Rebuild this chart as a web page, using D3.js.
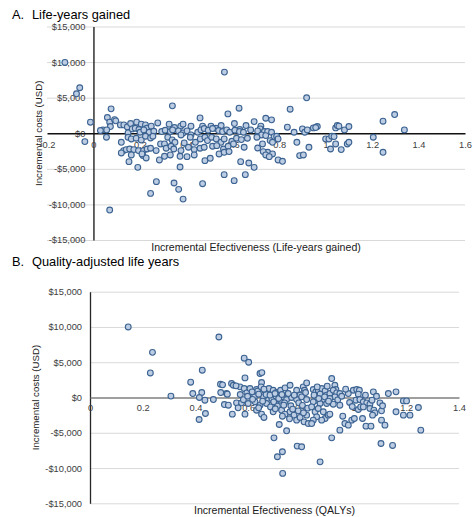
<!DOCTYPE html>
<html>
<head>
<meta charset="utf-8">
<script src="https://cdn.jsdelivr.net/npm/d3@7"></script>
<style>
  body { margin: 0; background: #fff; }
  svg { display: block; font-family: "Liberation Sans", Arial, sans-serif; }
</style>
</head>
<body>
<svg id="chart" width="473" height="517"></svg>
<script>
const costTicks = [-15000, -10000, -5000, 0, 5000, 10000, 15000];
const lifeYearTicks = [-0.2, 0, 0.2, 0.4, 0.6, 0.8, 1, 1.2, 1.4, 1.6];
const qalyTicks = [0, 0.2, 0.4, 0.6, 0.8, 1, 1.2, 1.4];

// [incremental effectiveness, incremental cost]
const lifeYearsPoints = [
  [-0.123, 9950], [-0.073, 5540], [-0.059, 6390], [-0.037, -1170], [-0.013, 1550], [0.564, 8590], [0.07, -10790],
  [0.076, 3430], [0.34, 3850], [0.459, 2160], [0.579, 2720], [0.627, 3520],
  [0.06, 2210], [0.07, 1550], [0.091, 1920], [0.096, 1740], [0.073, 940], [0.116, 1170], [0.131, 1170], [0.146, 890],
  [0.16, 1360], [0.186, 1550], [0.206, 1270], [0.224, 1170], [0.23, 700], [0.249, 990], [0.277, 1450], [0.326, 1270],
  [0.349, 800], [0.376, 990], [0.386, 1270], [0.42, 990], [0.47, 990], [0.506, 990], [0.527, 700], [0.55, 1080],
  [0.607, 1360], [0.63, 520], [0.657, 1080],
  [0.041, 470], [0.03, 380], [0.057, 470], [0.149, 50], [0.167, 610], [0.18, 700], [0.196, 520], [0.201, 140],
  [0.217, 470], [0.24, 140], [0.26, 280], [0.294, 240], [0.309, 420], [0.331, 240], [0.341, 470], [0.366, 330],
  [0.386, 50], [0.403, 330], [0.42, -240], [0.449, 140], [0.463, 470], [0.477, 660], [0.494, 420], [0.513, 660],
  [0.539, 380], [0.556, 240], [0.574, 470], [0.587, 140], [0.609, 420], [0.629, 240], [0.646, 140], [0.677, 470],
  [0.056, -560], [0.12, -1270], [0.149, -560], [0.163, -800], [0.184, -700], [0.206, -940], [0.224, -420], [0.246, -660],
  [0.256, -420], [0.289, -1500], [0.306, -1500], [0.32, -560], [0.339, -940], [0.351, -1270], [0.377, -240], [0.391, -1360],
  [0.417, -560], [0.439, -1270], [0.46, -800], [0.48, -560], [0.491, -1030], [0.509, -560], [0.529, -800], [0.549, -1270],
  [0.563, -800], [0.596, -1130], [0.616, -700], [0.637, -890], [0.663, -700],
  [0.13, -2440], [0.141, -2300], [0.156, -2210], [0.174, -2300], [0.194, -2440], [0.216, -2440], [0.231, -2210], [0.246, -2110],
  [0.27, -2440], [0.313, -2110], [0.334, -1830], [0.346, -2210], [0.377, -2440], [0.409, -1970], [0.434, -2300], [0.459, -2110],
  [0.477, -1970], [0.513, -1830], [0.531, -1740], [0.56, -2210], [0.58, -1830], [0.603, -1500], [0.649, -1970],
  [0.12, -2770], [0.163, -3050], [0.213, -3140], [0.227, -3470], [0.209, -2910], [0.284, -3750], [0.306, -3240], [0.331, -3050],
  [0.373, -3240], [0.403, -3290], [0.434, -3050], [0.48, -3850], [0.503, -3520], [0.541, -2910], [0.563, -2680], [0.584, -2580],
  [0.634, -3990], [0.669, -4180],
  [0.153, -3990], [0.191, -4790], [0.373, -4740], [0.563, -5820], [0.606, -6660], [0.654, -5820], [0.271, -6800], [0.347, -6990],
  [0.367, -7880], [0.47, -7090], [0.246, -8450], [0.386, -9250],
  [0.918, 4980], [0.847, 3380], [0.742, 2110], [0.767, 1880], [0.692, 1640], [0.721, 990], [0.718, 610], [0.707, 330],
  [0.736, 240], [0.75, 240], [0.767, 140], [0.724, -240], [0.742, -330], [0.704, -560], [0.778, -470], [0.789, -420],
  [0.795, -800], [0.761, -1030], [0.771, -1270], [0.728, -1500], [0.707, -2070], [0.75, -2680], [0.731, -2580], [0.771, -2910],
  [0.742, -3050], [0.757, -3290], [0.795, -3750], [0.814, -3940], [0.692, -4790],
  [0.835, 850], [0.864, 140], [0.876, -1270], [0.9, 610], [0.91, 140], [0.921, 470], [0.928, -1970], [0.888, -3140],
  [0.904, -3050], [0.947, 750], [0.964, 940], [0.957, 800], [1.0, -800], [1.014, -800], [1.021, -2210], [1.026, -420],
  [1.036, -470], [1.043, 750], [1.05, 1080], [1.057, 990], [1.043, -1500], [1.067, -2300], [1.081, 470], [1.093, -1500],
  [1.1, 940], [1.1, -1270], [1.205, -560], [1.247, 1690], [1.247, -2680], [1.297, 2630], [1.339, 470]
];

const qalyPoints = [
  [0.145, 10000], [0.489, 8580], [0.731, -10760], [0.237, 6400], [0.229, 3480],
  [0.426, 3870], [0.382, 2170], [0.588, 2780], [0.645, 3400], [0.652, 3530], [0.651, 2120], [0.585, 5570], [0.602, 5000],
  [0.307, 200], [0.39, 560], [0.424, 700], [0.415, 0], [0.436, -380], [0.468, -290], [0.414, -3120], [0.438, -2270],
  [0.495, 1880], [0.503, 1790], [0.496, 700], [0.537, 1980], [0.544, 1740], [0.569, 1510], [0.554, 1650],
  [0.51, -1000], [0.525, -1090], [0.54, -2360], [0.556, -760], [0.562, -1470], [0.575, -760], [0.518, 560], [0.521, 470],
  [0.585, 1270], [0.595, 660], [0.607, 1270],
  [0.613, 330], [0.6, -850], [0.588, -2360], [0.626, -620], [0.632, -1800], [0.645, -1090], [0.651, -2360], [0.66, -2830], [0.624, 90],
  [0.632, 1130], [0.636, 890], [0.649, 1510], [0.664, 940], [0.679, 1270], [0.695, 1030], [0.708, 700], [0.723, 1030],
  [0.74, 1360], [0.759, 1740], [0.784, 1030], [0.809, 1510], [0.822, 2070], [0.814, 1030], [0.809, 560], [0.797, 330],
  [0.658, 90], [0.677, -380], [0.69, -150], [0.706, 180], [0.721, -380], [0.733, 90], [0.746, -290], [0.765, 0],
  [0.784, -290], [0.803, 90], [0.822, -290],
  [0.67, -850], [0.685, -1330], [0.695, -2030], [0.711, -1230], [0.727, -1800], [0.74, -2360], [0.759, -2030], [0.774, -2500],
  [0.784, -3210], [0.797, -2830], [0.812, -3450], [0.822, -2500], [0.828, -3690],
  [0.718, -3830], [0.746, -4720], [0.698, -5720], [0.73, -7690], [0.711, -8400], [0.786, -6890], [0.803, -6990],
  [0.57, 420], [0.582, -310], [0.598, 180], [0.617, -260], [0.64, 470], [0.655, -520], [0.668, 420], [0.683, 330],
  [0.697, -620], [0.702, 560], [0.716, -140], [0.728, 420], [0.738, -760], [0.752, 560], [0.762, -1180], [0.775, 330],
  [0.792, -760], [0.806, -1130], [0.818, 700], [0.826, -1510], [0.64, -1460], [0.703, -1600], [0.735, -1090], [0.769, -1650],
  [0.79, -1890], [0.81, -2170], [0.615, 800], [0.66, 1180], [0.73, -2650], [0.757, -3020],
  [0.917, 2690], [0.929, 1740], [0.933, 1130],
  [0.847, 1130], [0.857, 800], [0.866, 1030], [0.879, 1270], [0.873, 470], [0.892, 940], [0.898, 330], [0.91, 560],
  [0.923, 1030], [0.936, 660], [0.948, 560], [0.929, 90], [0.91, -150], [0.885, -290], [0.86, -380], [0.847, -620],
  [0.873, -850], [0.898, -850], [0.923, -950], [0.948, -1090], [0.841, -1330], [0.854, -2030], [0.866, -1560], [0.885, -2030],
  [0.892, -2980], [0.879, -3210], [0.904, -2500], [0.91, -2360], [0.86, -2740], [0.847, -3210], [0.841, -3690], [0.959, -2650],
  [0.967, -3690], [0.98, -3920], [0.993, -3210], [1.003, -2980], [0.948, -4630], [0.917, -5720], [0.873, -9120], [1.104, -6520],
  [1.148, -6800], [0.999, 1030], [1.012, 1130], [1.022, 1030], [1.018, 470], [1.009, -380], [1.024, -290], [1.037, -620],
  [1.05, -760], [1.062, -950], [1.075, 800], [1.087, 180], [1.1, -760], [1.132, 560], [1.161, 800], [1.018, -1700],
  [1.027, -1330], [1.037, -1330], [1.062, -1560], [1.077, -1800], [1.081, -2180], [1.072, -2500], [1.106, -1890], [1.034, -2980],
  [1.047, -4060], [1.066, -4060], [1.106, -3210], [1.119, -3920], [1.161, -2030], [1.189, -480], [1.201, -480], [1.189, -2500],
  [1.214, -2500], [1.246, -1420], [1.255, -4630],
  [0.85, 330], [0.868, -150], [0.89, 90], [0.905, -520], [0.94, -330], [0.955, 180], [0.98, 560], [0.985, -710],
  [0.995, -1280], [0.862, 1500], [0.9, 1600], [0.97, 1180], [1.045, 330], [1.07, -380], [1.11, -1180]
];

const fmtCost = d => (d < 0 ? "-" : "") + "$" + d3.format(",")(Math.abs(d));
const fmtEff = d => String(Math.round(d * 10) / 10);

const svg = d3.select("#chart");

function drawPanel(o) {
  const x = d3.scaleLinear().domain(d3.extent(o.xTicks)).range([o.left, o.right]);
  const y = d3.scaleLinear().domain([-15000, 15000]).range([o.bottom, o.top]);
  const g = svg.append("g");

  // title
  g.append("text").attr("x", 12).attr("y", o.titleY)
    .attr("font-size", 12.8).text(o.letter);
  g.append("text").attr("x", 32).attr("y", o.titleY)
    .attr("font-size", 12.8).text(o.title);

  // gridlines
  g.append("g")
    .attr("transform", `translate(${o.left},0)`)
    .call(d3.axisLeft(y).tickValues(costTicks.filter(d => d !== 0))
      .tickSize(-(o.right - o.left)).tickFormat(""))
    .call(a => a.select(".domain").remove())
    .selectAll("line").attr("stroke", "#d9d9d9").attr("stroke-width", 1);

  // y axis (crosses at x = 0)
  const yAxis = g.append("g")
    .attr("transform", `translate(${x(0)},0)`)
    .call(d3.axisLeft(y).tickValues(costTicks).tickSize(0).tickSizeOuter(0)
      .tickPadding(8).tickFormat(fmtCost));
  yAxis.attr("font-family", null).attr("font-size", 9.3);
  yAxis.select(".domain").attr("stroke", o.yLineColor).attr("stroke-width", 1.3);
  yAxis.selectAll("text").attr("fill", "#404040");

  // x axis (crosses at y = 0)
  const xAxis = g.append("g")
    .attr("transform", `translate(0,${y(0)})`)
    .call(d3.axisBottom(x).tickValues(o.xTicks).tickSize(0).tickSizeOuter(0)
      .tickPadding(o.xPad).tickFormat(fmtEff));
  xAxis.attr("font-family", null).attr("font-size", 9.3);
  xAxis.select(".domain").attr("stroke", o.xLineColor).attr("stroke-width", 1.3);
  xAxis.selectAll("text").attr("fill", "#404040");

  // axis titles
  g.append("text")
    .attr("x", (o.left + o.right) / 2).attr("y", o.xLabelY)
    .attr("text-anchor", "middle").attr("font-size", 10.6).attr("fill", "#202020")
    .text(o.xLabel);
  g.append("text")
    .attr("transform", `translate(${o.yLabelX},${(o.top + o.bottom) / 2}) rotate(-90)`)
    .attr("dy", "0.35em")
    .attr("text-anchor", "middle").attr("font-size", 9.7).attr("fill", "#202020")
    .text("Incremental costs (USD)");

  // points
  g.append("g")
    .selectAll("circle")
    .data(o.points)
    .join("circle")
    .attr("cx", d => x(d[0]))
    .attr("cy", d => y(d[1]))
    .attr("r", 2.9)
    .attr("fill", "#bccde3")
    .attr("stroke", "#3b6291")
    .attr("stroke-width", 1.1);
}

drawPanel({
  letter: "A.", title: "Life-years gained", titleY: 19,
  left: 47, right: 465, top: 26.5, bottom: 240,
  xTicks: lifeYearTicks, xPad: 8, points: lifeYearsPoints,
  xLabel: "Incremental Efectiveness (Life-years gained)", xLabelY: 251, yLabelX: 39,
  xLineColor: "#111", yLineColor: "#111"
});

drawPanel({
  letter: "B.", title: "Quality-adjusted life years", titleY: 266,
  left: 90, right: 459, top: 291.7, bottom: 503.3,
  xTicks: qalyTicks, xPad: 7, points: qalyPoints,
  xLabel: "Incremental Efectiveness (QALYs)", xLabelY: 514, yLabelX: 36,
  xLineColor: "#7f7f7f", yLineColor: "#262626"
});
</script>
</body>
</html>
